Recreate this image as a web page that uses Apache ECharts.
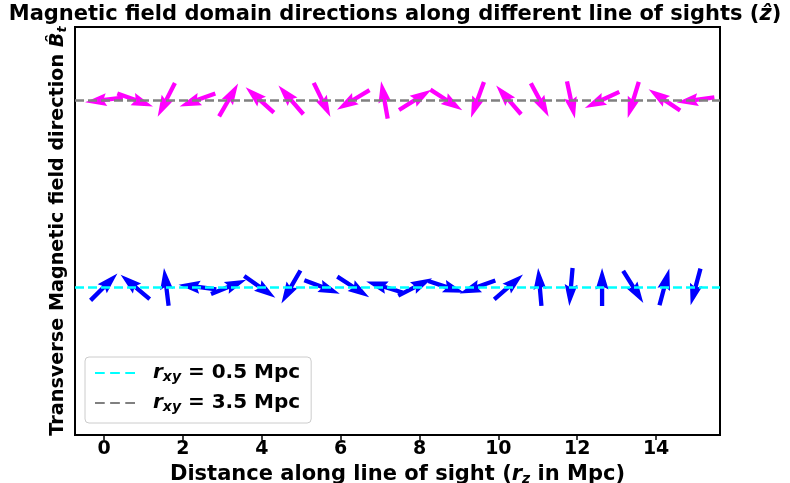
<!DOCTYPE html>
<html>
<head>
<meta charset="utf-8">
<script src="https://cdn.jsdelivr.net/npm/echarts@6/dist/echarts.min.js"></script>
<style>html,body{margin:0;padding:0;background:#fff}#c{width:790px;height:483px}</style>
</head>
<body>
<div id="c"></div>
<script>
// ---- data ----
const domainX = [0, 0.79, 1.58, 2.37, 3.16, 3.95, 4.74, 5.53, 6.32, 7.11, 7.89, 8.68, 9.47, 10.26, 11.05, 11.84, 12.63, 13.42, 14.21, 15.0];
// arrow directions in degrees (counter-clockwise from +x)
const blueAngles = [45, 140, 97, 173, 22, -35, 240, -21, -33, 163, 27, -18, 200, 41, 95, 265, 90, -58, 75, 255];
const magentaAngles = [187, -20, 243, 200, 60, 138, 131, -64, 211, 100, 32, -33, 250, 131, -62, -78, 205, 253, 146, 188];
const rxyLow = 0.5;
const rxyHigh = 3.5;
const xTicks = [0, 2, 4, 6, 8, 10, 12, 14];
const seriesNames = ['r_xy = 0.5 Mpc', 'r_xy = 3.5 Mpc'];
const legendTexts = ['0.5 Mpc', '3.5 Mpc'];

const FONT = 'DejaVu Sans';
const chart = echarts.init(document.getElementById('c'), null, {renderer: 'canvas'});

function arrowRenderer(color) {
  return function (params, api) {
    const c = api.coord([api.value(0), api.value(1)]);
    const a = api.value(2) * Math.PI / 180;
    const ux = Math.cos(a), uy = -Math.sin(a);
    const px = -uy, py = ux;
    const L = 38, w = 4.3, hw = 3 * w, hl = 5 * w, hal = 4.5 * w;
    const loc = [[-L/2, -w/2], [L/2 - hal, -w/2], [L/2 - hl, -hw/2], [L/2, 0],
                 [L/2 - hl, hw/2], [L/2 - hal, w/2], [-L/2, w/2]];
    const pts = loc.map(p => [c[0] + p[0] * ux + p[1] * px, c[1] + p[0] * uy + p[1] * py]);
    return {type: 'polygon', shape: {points: pts}, style: {fill: color}};
  };
}

const option = {
  animation: false,
  backgroundColor: '#fff',
  title: {
    text: '{a|Magnetic field domain directions along different line of sights (}{i|ẑ}{a|)}',
    left: 'center', top: -1,
    textStyle: {
      rich: {
        a: {fontFamily: FONT, fontWeight: 'bold', fontSize: 21, color: '#000'},
        i: {fontFamily: FONT, fontWeight: 'bold', fontStyle: 'italic', fontSize: 21, color: '#000'}
      }
    }
  },
  grid: {left: 75, right: 70, top: 27, bottom: 48, outerBoundsMode: 'none', containLabel: false,
         show: true, borderColor: '#000', borderWidth: 2, backgroundColor: 'transparent'},
  xAxis: {
    type: 'value', min: -0.735, max: 15.62,
    splitLine: {show: false},
    axisLine: {show: true, onZero: false, lineStyle: {color: '#000', width: 2}},
    axisTick: {show: true, customValues: xTicks, length: 5, lineStyle: {color: '#000', width: 1.5}},
    axisLabel: {customValues: xTicks, fontFamily: FONT, fontWeight: 'bold', fontSize: 19, color: '#000', margin: 5},
    name: '{a|Distance along line of sight (}{i|r}{s|z}{a| in Mpc)}',
    nameLocation: 'middle', nameGap: 22,
    nameTextStyle: {
      rich: {
        a: {fontFamily: FONT, fontWeight: 'bold', fontSize: 21, color: '#000'},
        i: {fontFamily: FONT, fontWeight: 'bold', fontStyle: 'italic', fontSize: 21, color: '#000'},
        s: {fontFamily: FONT, fontWeight: 'bold', fontStyle: 'italic', fontSize: 14, color: '#000', padding: [10, 0, 0, 0]}
      }
    }
  },
  yAxis: {
    type: 'value', min: -1.875, max: 4.67,
    splitLine: {show: false},
    axisLine: {show: true, onZero: false, lineStyle: {color: '#000', width: 2}},
    axisTick: {show: false},
    axisLabel: {show: false},
    name: '{a|Transverse Magnetic field direction }{i|B̂}{s|t}',
    nameLocation: 'middle', nameRotate: 90, nameGap: 6,
    nameTextStyle: {
      rich: {
        a: {fontFamily: FONT, fontWeight: 'bold', fontSize: 19.2, color: '#000'},
        i: {fontFamily: FONT, fontWeight: 'bold', fontStyle: 'italic', fontSize: 19.2, color: '#000'},
        s: {fontFamily: FONT, fontWeight: 'bold', fontStyle: 'italic', fontSize: 13, color: '#000', padding: [9, 0, 0, 0]}
      }
    }
  },
  legend: {
    orient: 'vertical', left: 85, top: 357,
    data: seriesNames,
    icon: 'path://M0,0h9v2h-9z M14,0h9v2h-9z M28,0h9v2h-9z',
    itemWidth: 40, itemHeight: 3, itemGap: 6,
    padding: [4, 11, 8, 10],
    borderColor: '#cccccc', borderWidth: 1, borderRadius: 4,
    backgroundColor: 'rgba(255,255,255,0.8)',
    formatter: function (name) {
      const i = seriesNames.indexOf(name);
      return '{r|r}{s|xy}{t| = ' + legendTexts[i] + '}';
    },
    textStyle: {
      lineHeight: 24,
      rich: {
        r: {fontFamily: FONT, fontWeight: 'bold', fontStyle: 'italic', fontSize: 20, color: '#000', padding: [0, 0, 0, 13]},
        s: {fontFamily: FONT, fontWeight: 'bold', fontStyle: 'italic', fontSize: 14, color: '#000', padding: [9, 0, 0, 0]},
        t: {fontFamily: FONT, fontWeight: 'bold', fontSize: 20, color: '#000'}
      }
    }
  },
  series: [
    {
      type: 'custom', name: 'blue arrows', z: 2, clip: false,
      renderItem: arrowRenderer('#0000ff'),
      data: domainX.map((x, i) => [x, rxyLow, blueAngles[i]])
    },
    {
      type: 'custom', name: 'magenta arrows', z: 2, clip: false,
      renderItem: arrowRenderer('#ff00ff'),
      data: domainX.map((x, i) => [x, rxyHigh, magentaAngles[i]])
    },
    {
      type: 'line', name: seriesNames[0], data: [], color: '#00ffff', z: 5, symbol: 'none',
      markLine: {silent: true, symbol: ['none', 'none'], label: {show: false},
        lineStyle: {color: '#00ffff', type: [9, 4], width: 2.5}, data: [{yAxis: rxyLow}]}
    },
    {
      type: 'line', name: seriesNames[1], data: [], color: '#808080', z: 5, symbol: 'none',
      markLine: {silent: true, symbol: ['none', 'none'], label: {show: false},
        lineStyle: {color: '#808080', type: [9, 4], width: 2.5}, data: [{yAxis: rxyHigh}]}
    }
  ]
};
chart.setOption(option);
</script>
</body>
</html>
